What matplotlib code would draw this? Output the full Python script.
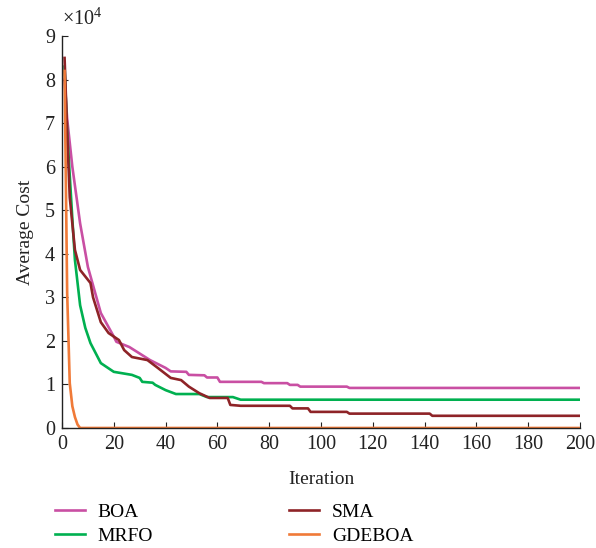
import matplotlib
matplotlib.use("Agg")
import matplotlib.pyplot as plt
from matplotlib.ticker import FuncFormatter

# convergence curves, (iteration, average cost) breakpoints
boa_it = [1, 2, 4, 7, 10, 15, 20, 21, 26, 34, 40, 42, 48, 49, 55, 56, 60, 61, 77, 78, 87, 88, 91, 92, 110, 111, 200]
boa_cost = [80000, 71000, 60000, 47000, 37000, 26400, 21000, 19800, 18600, 15600, 13800, 13000, 12900, 12200, 12100, 11600, 11600, 10600, 10600, 10300, 10300, 9900, 9900, 9500, 9500, 9200, 9200]

mrfo_it = [1, 2, 4, 5, 7, 9, 11, 15, 20, 27, 30, 31, 35, 36, 40, 44, 53, 56, 66, 69, 200]
mrfo_cost = [83000, 68000, 48000, 38600, 28200, 23000, 19500, 14900, 12900, 12200, 11500, 10600, 10400, 9900, 8700, 7800, 7800, 7100, 7100, 6500, 6500]

sma_it = [1, 2, 3, 5, 7, 11, 12, 15, 18, 22, 24, 27, 33, 37, 42, 46, 49, 53, 57, 64, 65, 69, 88, 89, 95, 96, 110, 111, 142, 143, 200]
sma_cost = [85000, 68000, 53000, 40900, 36300, 33300, 30000, 24300, 21800, 20200, 17900, 16300, 15600, 13800, 11500, 11000, 9500, 8000, 6900, 6900, 5300, 5100, 5100, 4500, 4500, 3700, 3700, 3300, 3300, 2800, 2800]

gdeboa_it = [1, 2, 3, 4, 5, 6, 7, 200]
gdeboa_cost = [82000, 31000, 10300, 5000, 2500, 800, 0, 0]

labels = ["BOA", "MRFO", "SMA", "GDEBOA"]
colors = ["#c94fa3", "#00b050", "#8e2327", "#f07a38"]

plt.rcParams["font.family"] = ["Liberation Serif", "DejaVu Serif"]

fig = plt.figure(figsize=(5.96, 5.48), dpi=100)
ax = fig.add_axes([0.104, 0.219, 0.869, 0.715])

series = [(boa_it, boa_cost), (mrfo_it, mrfo_cost), (sma_it, sma_cost), (gdeboa_it, gdeboa_cost)]
for (it, cost), lab, col in zip(series, labels, colors):
    ax.plot(it, cost, color=col, linewidth=1.9, label=lab, solid_joinstyle="round")

ax.set_xlim(0, 200)
ax.set_ylim(0, 90000)
ax.set_xticks(range(0, 201, 20))
ax.set_yticks(range(0, 90001, 10000))
ax.yaxis.set_major_formatter(FuncFormatter(lambda v, _: f"{v / 1e4:g}"))
ax.text(0, 1.015, r"$\mathregular{\times 10^4}$", transform=ax.transAxes,
        fontsize=14.5, va="bottom", ha="left", color="#222222")

for s in ("top", "right"):
    ax.spines[s].set_visible(False)
for s in ("left", "bottom"):
    ax.spines[s].set_color("#222222")
    ax.spines[s].set_linewidth(1.0)
ax.tick_params(direction="in", length=4, labelsize=14.5, colors="#222222", pad=5)

ax.set_xlabel("Iteration", fontsize=14, color="#222222", labelpad=12)
ax.set_ylabel("Average Cost", fontsize=14, color="#222222", labelpad=8)

fig.legend(loc="upper left", bbox_to_anchor=(0.092, 1 - 503 / 548), ncol=2, frameon=False,
           fontsize=14, handlelength=1.55, columnspacing=7.0, labelspacing=0.35,
           handletextpad=0.65, borderpad=0, borderaxespad=0)

fig.savefig("out.png", dpi=100)
plt.close(fig)
